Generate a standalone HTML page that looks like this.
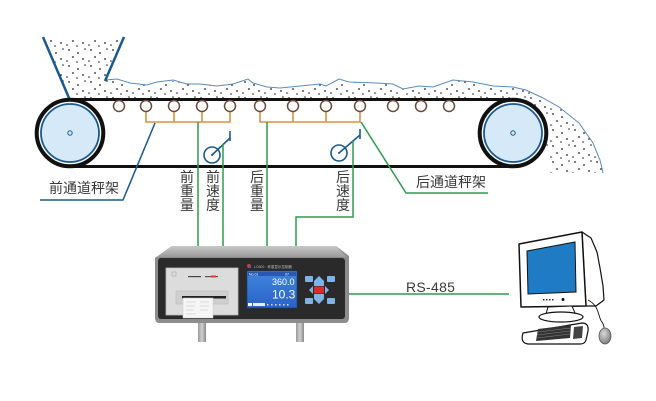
<!DOCTYPE html>
<html><head><meta charset="utf-8">
<style>
html,body{margin:0;padding:0;background:#fff;}
svg{display:block;}
.t{font-family:"Liberation Sans","Noto Sans CJK SC",sans-serif;font-size:14px;fill:#3a3a3a;}
</style></head>
<body>
<svg width="656" height="401" viewBox="0 0 656 401" xmlns="http://www.w3.org/2000/svg">
<defs>
<pattern id="dots" x="0" y="0" width="22" height="16" patternUnits="userSpaceOnUse">
<circle cx="3" cy="2" r="0.9" fill="#222"/>
<circle cx="12" cy="5" r="0.9" fill="#222"/>
<circle cx="19" cy="1" r="0.8" fill="#222"/>
<circle cx="7" cy="9" r="0.9" fill="#222"/>
<circle cx="17" cy="11" r="0.9" fill="#222"/>
<circle cx="1" cy="13" r="0.8" fill="#222"/>
<circle cx="11" cy="14" r="0.8" fill="#222"/>
</pattern>
<linearGradient id="top" x1="0" y1="0" x2="0" y2="1">
<stop offset="0" stop-color="#c8c8c8"/><stop offset="1" stop-color="#9a9a9a"/>
</linearGradient>
<linearGradient id="leg" x1="0" y1="0" x2="1" y2="0">
<stop offset="0" stop-color="#9a9a9a"/><stop offset="0.5" stop-color="#d0d0d0"/><stop offset="1" stop-color="#8a8a8a"/>
</linearGradient>
<linearGradient id="scr" x1="0" y1="0" x2="0" y2="1">
<stop offset="0" stop-color="#3f86e0"/><stop offset="1" stop-color="#2a62c4"/>
</linearGradient>
<radialGradient id="mouse" cx="0.4" cy="0.35" r="0.7">
<stop offset="0" stop-color="#d8d8d8"/><stop offset="1" stop-color="#7a7a7a"/>
</radialGradient>
</defs>

<!-- material -->
<path d="M45,38 L69,98 L513,98 A35,35 0 0 1 546,145 L550,173 L603,173 L593,143 L579,123 L559,107 L543,98 L526,90 L513,87 L493,86 L473,82 L453,80 L433,87 L419,86 L403,89 L393,84 L376,83 L349,82 L339,80 L326,86 L320,84 L300,86 L280,88 L267,87 L253,83 L248,80 L233,84 L217,86 L200,84 L187,84 L173,81 L157,83 L147,85 L130,83 L117,80 L105,80 L123,38 Z" fill="url(#dots)"/>
<polyline points="105,80 117,79 130,83 147,85 157,82 173,80 187,84 200,84 217,86 233,84 248,79 253,83 267,87 280,88 300,86 320,84 326,86 339,79 349,82 376,83 393,84 403,89 419,86 433,87 453,80 473,82 493,86 513,87 526,90 543,98 559,107 579,123 593,143 600,160 603,173" fill="none" stroke="#5a8cc0" stroke-width="1"/>

<!-- hopper -->
<line x1="43" y1="37" x2="69" y2="98" stroke="#1a5a8f" stroke-width="2.5"/>
<line x1="124" y1="37" x2="105" y2="81" stroke="#1a5a8f" stroke-width="2.5"/>

<!-- belt -->
<line x1="70" y1="99.5" x2="513" y2="99.5" stroke="#111" stroke-width="3"/>
<line x1="70" y1="166.5" x2="513" y2="166.5" stroke="#111" stroke-width="3"/>
<circle cx="70" cy="133" r="33.3" fill="#fff" stroke="#111" stroke-width="4"/>
<circle cx="70" cy="133" r="29" fill="#d6e9f8" stroke="#1a5a8f" stroke-width="1.8"/>
<circle cx="70" cy="133" r="2.2" fill="none" stroke="#1a5a8f" stroke-width="1"/>
<circle cx="513" cy="133" r="33.3" fill="#fff" stroke="#111" stroke-width="4"/>
<circle cx="513" cy="133" r="29" fill="#d6e9f8" stroke="#1a5a8f" stroke-width="1.8"/>
<circle cx="513" cy="133" r="2.2" fill="none" stroke="#1a5a8f" stroke-width="1"/>

<!-- orange brackets -->
<g stroke="#e0913a" stroke-width="1.6" fill="none">
<polyline points="146,111 146,122 230,122 230,111"/>
<line x1="174" y1="111" x2="174" y2="122"/>
<line x1="202" y1="111" x2="202" y2="122"/>
<polyline points="260,111 260,122 360,122 360,111"/>
<line x1="293" y1="111" x2="293" y2="122"/>
<line x1="326" y1="111" x2="326" y2="122"/>
</g>

<!-- rollers -->
<g fill="#fff" stroke="#6b4a3a" stroke-width="1.5">
<circle cx="119" cy="106" r="5.5"/>
<circle cx="146" cy="106" r="5.5"/>
<circle cx="174" cy="106" r="5.5"/>
<circle cx="202" cy="106" r="5.5"/>
<circle cx="230" cy="106" r="5.5"/>
<circle cx="260" cy="106" r="5.5"/>
<circle cx="293" cy="106" r="5.5"/>
<circle cx="326" cy="106" r="5.5"/>
<circle cx="360" cy="106" r="5.5"/>
<circle cx="393" cy="106" r="5.5"/>
<circle cx="421" cy="106" r="5.5"/>
<circle cx="449" cy="106" r="5.5"/>
</g>

<!-- speed sensors -->
<g stroke="#1a5a8f" stroke-width="1.6" fill="none">
<circle cx="212" cy="155" r="8"/>
<line x1="212" y1="155" x2="230" y2="138"/>
<line x1="230" y1="131" x2="230" y2="141"/>
<circle cx="339" cy="153" r="8"/>
<line x1="339" y1="153" x2="360" y2="135"/>
<line x1="360" y1="129" x2="360" y2="139"/>
</g>
<circle cx="212" cy="155" r="1" fill="#1a5a8f"/>
<circle cx="339" cy="153" r="1" fill="#1a5a8f"/>

<!-- green signal lines -->
<g stroke="#2e9b4f" stroke-width="1.5" fill="none">
<line x1="198" y1="122" x2="198" y2="247"/>
<line x1="223" y1="144" x2="223" y2="247"/>
<line x1="267" y1="122" x2="267" y2="247"/>
<polyline points="353,141 353,217 296,217 296,247"/>
<polyline points="361,122 406,193 488,193"/>
<line x1="349" y1="294" x2="509" y2="294"/>
</g>
<polyline points="155,123 123,200 40,200" fill="none" stroke="#1a5a8f" stroke-width="1.5"/>

<!-- labels -->
<text class="t" x="49" y="193">前通道秤架</text>
<text class="t" x="416" y="187">后通道秤架</text>
<text class="t" x="406" y="292" style="font-size:14px;letter-spacing:0.3px">RS-485</text>
<g class="t" text-anchor="middle">
<text x="187" y="182">前</text><text x="187" y="196">重</text><text x="187" y="210">量</text>
<text x="213" y="182">前</text><text x="213" y="196">速</text><text x="213" y="210">度</text>
<text x="257" y="182">后</text><text x="257" y="196">重</text><text x="257" y="210">量</text>
<text x="343" y="182">后</text><text x="343" y="196">速</text><text x="343" y="210">度</text>
</g>

<!-- instrument -->
<rect x="198" y="318" width="8" height="24" fill="url(#leg)"/>
<rect x="296" y="318" width="8" height="24" fill="url(#leg)"/>
<path d="M172,246 L336,246 L349,256 L349,318 Q349,323 344,323 L160,323 Q155,323 155,318 L155,258 Z" fill="#8c8c8c"/>
<path d="M172,246 L336,246 L347,257 L157,257 Z" fill="url(#top)"/>
<rect x="158" y="258" width="187" height="61" rx="3" fill="#2a2a2a"/>
<rect x="166" y="268" width="72" height="47" fill="#dcdcdc" stroke="#bbb" stroke-width="0.8"/>
<rect x="172" y="272" width="4" height="4" fill="none" stroke="#aaa" stroke-width="0.6"/>
<rect x="188" y="276" width="13" height="1.2" fill="#444"/>
<rect x="205" y="276" width="13" height="1.2" fill="#555"/>
<rect x="211" y="275.5" width="5" height="2" fill="#e33"/>
<rect x="176" y="291" width="52" height="13" fill="#cfcfcf" stroke="#bbb" stroke-width="0.6"/>
<rect x="182" y="296" width="44" height="2.5" fill="#222"/>
<rect x="183" y="298" width="30" height="20" fill="#f6f6f6" stroke="#ccc" stroke-width="0.5"/>
<g stroke="#c8c8c8" stroke-width="0.6">
<line x1="186" y1="302" x2="196" y2="302"/><line x1="200" y1="302" x2="209" y2="302"/>
<line x1="186" y1="306" x2="195" y2="306"/><line x1="200" y1="306" x2="209" y2="306"/>
<line x1="186" y1="310" x2="194" y2="310"/><line x1="200" y1="310" x2="208" y2="310"/>
<line x1="186" y1="314" x2="196" y2="314"/>
</g>
<!-- brand -->
<circle cx="249" cy="266" r="2" fill="#d33"/>
<circle cx="250" cy="267" r="1.2" fill="#36c"/>
<text x="254" y="268" font-family="Liberation Sans,sans-serif" font-size="3.5" fill="#bbb">LC600 · 称重显示控制器</text>
<!-- screen -->
<rect x="247" y="271" width="50" height="37" fill="url(#scr)" stroke="#1a3a70" stroke-width="0.6"/>
<rect x="248" y="272" width="48" height="4" fill="#2a58b0"/>
<text x="249" y="275.5" font-family="Liberation Sans,sans-serif" font-size="3.5" fill="#fff">No.01</text>
<text x="285" y="275.5" font-family="Liberation Sans,sans-serif" font-size="3.5" fill="#fff">07</text>
<text x="272" y="285" font-family="Liberation Sans,sans-serif" font-size="9" fill="#fff">360.0</text>
<text x="272" y="298.5" font-family="Liberation Sans,sans-serif" font-size="12" fill="#fff">10.3</text>
<rect x="248" y="303" width="4" height="3" fill="#fff"/>
<rect x="253" y="303" width="12" height="3" fill="#e8eef8"/>
<g fill="#cfe0f8"><rect x="267" y="304" width="1.5" height="1.5"/><rect x="271" y="304" width="1.5" height="1.5"/><rect x="275" y="304" width="1.5" height="1.5"/><rect x="279" y="304" width="1.5" height="1.5"/><rect x="283" y="304" width="1.5" height="1.5"/><rect x="287" y="304" width="1.5" height="1.5"/></g>
<!-- buttons -->
<g fill="#7fb3e6">
<rect x="305" y="276" width="8" height="6" rx="1"/>
<rect x="327" y="276" width="8" height="6" rx="1"/>
<rect x="305" y="298" width="8" height="6" rx="1"/>
<rect x="327" y="298" width="8" height="6" rx="1"/>
<path d="M319,276 L324,281 L324,286 L314,286 L314,281 Z"/>
<path d="M319,304 L324,299 L324,294 L314,294 L314,299 Z"/>
<path d="M309,290 L313,286 L313,294 Z"/>
<path d="M329,290 L325,286 L325,294 Z"/>
</g>
<rect x="314" y="286.5" width="10" height="7" rx="1" fill="#e02a2a"/>

<!-- computer -->
<path d="M582,232 L591,238 L597,252 L600,268 L603,286 L604,300 L596,306 L586,306 Z" fill="#fff" stroke="#111" stroke-width="1.2" stroke-linejoin="round"/>
<path d="M519,244 L582,232 L586,306 L521,307 Z" fill="#fff" stroke="#111" stroke-width="1.5" stroke-linejoin="round"/>
<path d="M527,251 L575,242 L576,292 L528,294 Z" fill="#1f7cc4" stroke="#111" stroke-width="1"/>
<g fill="#333"><rect x="543" y="299" width="1.5" height="1.5"/><rect x="546" y="299" width="1.5" height="1.5"/><rect x="549" y="299" width="1.5" height="1.5"/><rect x="552" y="299" width="1.5" height="1.5"/></g>
<circle cx="563" cy="299.5" r="1.5" fill="#111"/>
<path d="M548,307 L572,306 L575,313 L546,314 Z" fill="#fff" stroke="#111" stroke-width="1"/>
<ellipse cx="561" cy="317" rx="22" ry="5" fill="#fff" stroke="#111" stroke-width="1.2"/>
<path d="M588,300 C600,306 598,318 602,322 C604,325 604,327 604,328" fill="none" stroke="#111" stroke-width="0.9"/>
<path d="M523,333 L582,323 Q589,323 588,331 L586,340 Q585,344 580,344 L528,344 Q520,343 523,333 Z" fill="#fff" stroke="#111" stroke-width="1.2"/>
<path d="M538,329 L571,325 L570,338 L536,341 Z" fill="#333"/>
<g stroke="#999" stroke-width="0.4"><line x1="538" y1="332" x2="571" y2="328"/><line x1="537" y1="335" x2="570" y2="331"/><line x1="537" y1="338" x2="570" y2="334"/></g>
<path d="M574,327 L583,326 L582,338 L573,339 Z" fill="#444"/>
<ellipse cx="605" cy="336" rx="6" ry="8" fill="url(#mouse)" stroke="#555" stroke-width="0.8"/>
</svg>
</body></html>
